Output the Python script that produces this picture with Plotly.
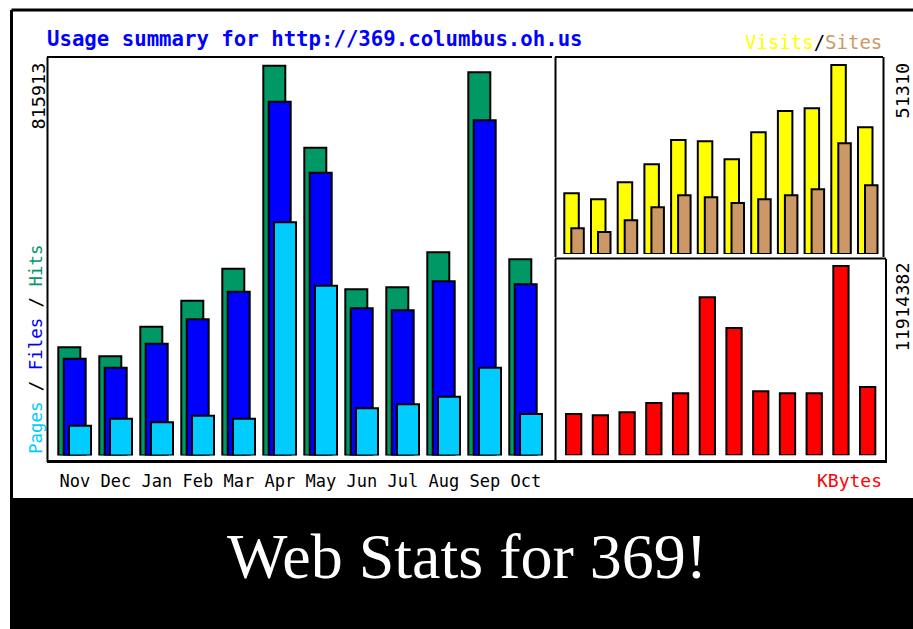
import plotly.graph_objects as go

# ---------------- data ----------------
months = ["Nov", "Dec", "Jan", "Feb", "Mar", "Apr", "May", "Jun", "Jul", "Aug", "Sep", "Oct"]
hits = [226500, 207600, 269600, 324000, 391000, 815913, 644300, 347900, 352100, 425300, 802100, 410700]
files = [202600, 183800, 234000, 285100, 342900, 740600, 592000, 308100, 303900, 364600, 701600, 358400]
pages = [62400, 77000, 69500, 83300, 77000, 488100, 355400, 98800, 107200, 123100, 183800, 86900]
visits = [16480, 14850, 19470, 24350, 30950, 30600, 25710, 33040, 38820, 39560, 51310, 34400]
sites = [6980, 5970, 9150, 12680, 15940, 15390, 13850, 14850, 15940, 17570, 30050, 18650]
kbytes = [2599000, 2518000, 2706000, 3292000, 3902000, 9944000, 8012000, 4028000, 3902000, 3902000, 11914382, 4299000]

title_text = "Usage summary for http://369.columbus.oh.us"
banner_text = "Web Stats for 369!"

# ---------------- geometry helpers (pixels -> paper) ----------------
W, H = 913, 629
def px(x):
    return x / W
def py(y):
    return 1 - y / H

MONO = "DejaVu Sans Mono"
C_HITS, C_FILES, C_PAGES = "#009966", "#0000FF", "#00CCFF"
C_VISITS, C_SITES, C_KB = "#FFFF00", "#CC9966", "#FF0000"

xs = list(range(len(months)))
fig = go.Figure()
line = dict(color="black", width=2)

# main panel: hits / files / pages
u1 = 41.0
for vals, col, left in [(hits, C_HITS, 57.3), (files, C_FILES, 62.7), (pages, C_PAGES, 68.0)]:
    fig.add_trace(go.Bar(x=xs, y=vals, marker=dict(color=col, line=line),
                         offset=(left + 1 - 74.8) / u1, width=22 / u1,
                         xaxis="x", yaxis="y", hoverinfo="skip"))

# visits / sites panel
u2 = 26.7
for vals, col, left, w in [(visits, C_VISITS, 563.3, 14.5), (sites, C_SITES, 570.3, 12.5)]:
    fig.add_trace(go.Bar(x=xs, y=vals, marker=dict(color=col, line=line),
                         offset=(left + 1 - 573.5) / u2, width=w / u2,
                         xaxis="x2", yaxis="y2", hoverinfo="skip"))

# kbytes panel
u3 = 26.73
fig.add_trace(go.Bar(x=xs, y=kbytes, marker=dict(color=C_KB, line=line),
                     offset=(565 + 1 - 573.7) / u3, width=15.3 / u3,
                     xaxis="x3", yaxis="y3", hoverinfo="skip"))

hidden = dict(showgrid=False, zeroline=False, showline=False, showticklabels=False, fixedrange=True)

fig.update_layout(
    width=W, height=H, margin=dict(l=0, r=0, t=0, b=0),
    paper_bgcolor="white", plot_bgcolor="rgba(0,0,0,0)",
    barmode="overlay", showlegend=False,
    xaxis=dict(domain=[px(47), px(552)], range=[-(74.8 - 47) / u1, (552 - 74.8) / u1],
               showgrid=False, zeroline=False, showline=False, fixedrange=True,
               tickmode="array", tickvals=xs, ticktext=months,
               ticks="outside", ticklen=10, tickcolor="rgba(0,0,0,0)",
               tickfont=dict(family=MONO, size=17, color="black")),
    yaxis=dict(hidden, domain=[py(455.5), py(57)], range=[0, 815913 * (455.5 - 57) / (455.5 - 65.7)]),
    xaxis2=dict(hidden, domain=[px(555), px(883)], range=[-(573.5 - 555) / u2, (883 - 573.5) / u2], anchor="y2"),
    yaxis2=dict(hidden, domain=[py(254), py(57)], range=[0, 51310 * (254 - 57) / (254 - 65)], anchor="x2"),
    xaxis3=dict(hidden, domain=[px(555), px(885)], range=[-(573.7 - 555) / u3, (885 - 573.7) / u3], anchor="y3"),
    yaxis3=dict(hidden, domain=[py(455.3), py(259)], range=[0, 11914382 * (455.3 - 259) / (455.3 - 266)], anchor="x3"),
)

shapes = []
def seg(x0, y0, x1, y1, w=2):
    shapes.append(dict(type="line", xref="paper", yref="paper",
                       x0=px(x0), y0=py(y0), x1=px(x1), y1=py(y1),
                       line=dict(color="black", width=w)))

# bottom black band
shapes.append(dict(type="rect", xref="paper", yref="paper", x0=px(10.5), x1=1.0,
                   y0=0, y1=py(498), fillcolor="black", line=dict(width=0)))
# outer frame
seg(11.5, 10, 913, 10, 3)
seg(11.5, 10, 11.5, 629, 3)
# main panel frame
seg(47, 57, 552, 57)
seg(47.5, 57, 47.5, 462)
seg(47, 461.5, 887, 461.5, 3)
# visits panel frame
seg(555, 57, 883, 57)
seg(555.5, 57, 555.5, 257)
seg(883.5, 57, 883.5, 257)
# kbytes panel frame
seg(555, 258.5, 886, 258.5)
seg(555.5, 259, 555.5, 461)
seg(886, 259, 886, 462)
fig.update_layout(shapes=shapes)

ann = []
def text(x, y, t, size, color="black", xanchor="center", angle=0, family=MONO, bold=False):
    if bold:
        t = "<b>" + t + "</b>"
    ann.append(dict(xref="paper", yref="paper", x=px(x), y=py(y), text=t, showarrow=False,
                    xanchor=xanchor, yanchor="middle", textangle=angle,
                    font=dict(family=family, size=size, color=color)))

text(45, 39, title_text, 20.7, "#0000FF", xanchor="left", bold=True)
text(884, 42, f"<span style='color:{C_VISITS}'>Visits</span>/<span style='color:{C_SITES}'>Sites</span>",
     19, "black", xanchor="right")
text(36, 350, f"<span style='color:{C_PAGES}'>Pages</span> / <span style='color:{C_FILES}'>Files</span> / "
              f"<span style='color:{C_HITS}'>Hits</span>", 17.4, "black", angle=-90)
text(38, 96.5, f"{max(hits)}", 18.5, angle=-90)
text(902, 90.5, f"{max(visits)}", 18.5, angle=-90)
text(902, 307.5, f"{max(kbytes)}", 18.5, angle=-90)
text(884, 481, "KBytes", 18, C_KB, xanchor="right")
text(467, 556, banner_text, 64, "white", family="Liberation Serif")
fig.update_layout(annotations=ann)

fig.write_html("out.html", config={"displayModeBar": False},
               post_script="document.body.style.margin='0';document.body.style.overflow='hidden';")
